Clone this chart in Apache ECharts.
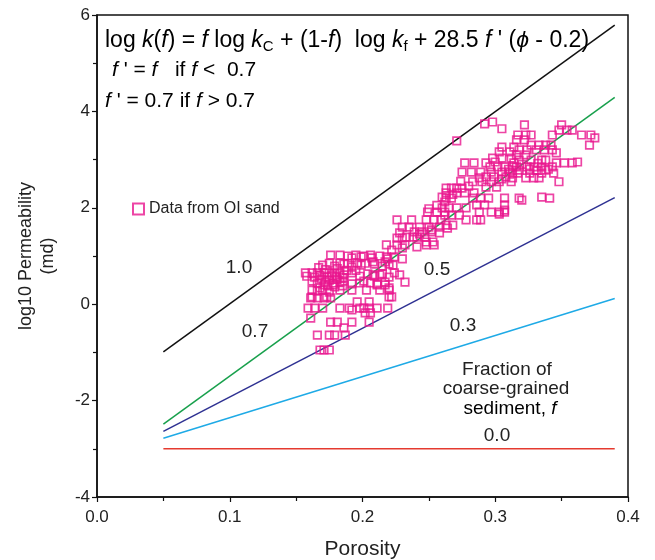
<!DOCTYPE html>
<html>
<head>
<meta charset="utf-8">
<script src="https://cdn.jsdelivr.net/npm/echarts@6/dist/echarts.min.js"></script>
<style>html,body{margin:0;padding:0;background:#fff;}#c{width:655px;height:560px;}</style>
</head>
<body>
<div id="c"></div>
<script>
// ---- data ----
const xTicks = [0.0, 0.1, 0.2, 0.3, 0.4];
const yTicks = [-4, -2, 0, 2, 4, 6];
const lineX = [0.05, 0.39];
const f10 = [-0.99, 5.79];
const f07 = [-2.49, 4.29];
const f05 = [-2.64, 2.21];
const f03 = [-2.78, 0.12];
const f00 = [-3.0, -3.0];
const oiSand = [
[0.176,1.02],[0.183,1.02],[0.189,1.00],[0.195,1.02],[0.201,1.00],[0.206,1.02],
[0.175,0.85],[0.183,0.85],[0.189,0.85],[0.196,0.85],[0.202,0.85],
[0.157,0.65],[0.162,0.65],[0.166,0.65],[0.171,0.65],[0.175,0.65],[0.179,0.65],[0.183,0.65],
[0.162,0.48],[0.166,0.44],[0.169,0.52],[0.172,0.46],[0.175,0.50],[0.178,0.44],[0.181,0.52],[0.183,0.46],[0.174,0.38],[0.168,0.34],[0.179,0.36],
[0.198,0.44],[0.206,0.44],
[0.162,0.29],[0.166,0.27],[0.170,0.29],[0.175,0.25],[0.183,0.29],[0.192,0.29],
[0.161,0.13],[0.166,0.13],[0.171,0.13],[0.176,0.13],
[0.196,0.05],[0.205,0.05],
[0.159,-0.08],[0.164,-0.08],[0.170,-0.08],[0.183,-0.08],[0.190,-0.08],[0.192,-0.12],[0.198,-0.08],[0.201,-0.08],[0.205,-0.08],
[0.202,-0.18],[0.206,-0.18],
[0.161,-0.29],
[0.176,-0.37],[0.181,-0.37],[0.192,-0.37],[0.205,-0.37],
[0.186,-0.49],
[0.166,-0.64],[0.175,-0.64],[0.179,-0.64],[0.187,-0.64],
[0.168,-0.95],[0.171,-0.95],[0.175,-0.95],
[0.218,1.23],[0.226,1.23],[0.232,1.23],[0.241,1.19],[0.248,1.23],[0.254,1.23],
[0.192,0.96],[0.199,0.98],[0.207,0.96],[0.213,1.00],[0.219,0.94],[0.224,0.98],[0.230,0.94],
[0.170,0.81],[0.179,0.79],[0.186,0.83],[0.192,0.77],[0.199,0.81],[0.209,0.83],[0.215,0.79],[0.220,0.83],
[0.158,0.58],[0.186,0.61],[0.192,0.65],[0.198,0.58],[0.204,0.63],[0.209,0.58],[0.215,0.63],[0.220,0.56],[0.224,0.65],[0.228,0.61],
[0.232,0.46],
[0.186,0.48],[0.192,0.42],[0.201,0.48],[0.211,0.42],[0.217,0.46],
[0.203,0.29],[0.213,0.29],[0.220,0.29],
[0.162,0.15],[0.173,0.15],[0.220,0.15],
[0.211,-0.08],[0.219,-0.08],
[0.249,1.91],[0.256,1.91],[0.262,1.91],
[0.226,1.75],[0.237,1.75],[0.248,1.75],[0.254,1.75],[0.259,1.75],
[0.230,1.60],[0.235,1.60],[0.243,1.60],[0.250,1.60],[0.258,1.60],
[0.239,1.50],[0.245,1.50],[0.252,1.50],
[0.233,1.39],[0.238,1.39],[0.241,1.39],[0.247,1.39],
[0.226,1.37],[0.230,1.37],
[0.248,1.29],[0.253,1.29],
[0.230,1.17],[0.222,1.12],
[0.218,0.98],[0.208,0.88],[0.217,0.88],[0.223,0.81],
[0.208,0.61],[0.213,0.61],
[0.211,0.40],[0.217,0.40],[0.220,0.34],[0.222,0.15],
[0.228,1.48],[0.243,1.46],[0.252,1.54],[0.258,1.48],
[0.260,2.22],[0.262,2.12],
[0.305,3.26],[0.314,3.26],
[0.303,3.16],[0.311,3.16],
[0.298,3.03],[0.305,3.03],[0.312,3.03],
[0.277,2.93],[0.284,2.93],[0.293,2.93],
[0.302,2.85],[0.307,2.85],[0.313,2.85],
[0.275,2.74],[0.282,2.74],[0.289,2.74],[0.297,2.74],[0.305,2.74],[0.311,2.74],
[0.293,2.64],[0.299,2.64],[0.308,2.64],
[0.283,2.54],[0.290,2.54],[0.297,2.54],[0.303,2.54],[0.312,2.54],
[0.293,2.43],[0.301,2.43],
[0.263,2.41],[0.267,2.41],[0.271,2.41],[0.275,2.41],
[0.263,2.31],[0.271,2.31],[0.277,2.31],[0.284,2.31],
[0.263,2.20],[0.267,2.20],[0.283,2.20],[0.289,2.20],[0.295,2.20],[0.307,2.20],[0.318,2.20],
[0.286,2.06],[0.292,2.06],
[0.260,2.00],[0.265,2.00],[0.271,2.00],[0.278,2.00],
[0.288,1.91],[0.297,1.91],[0.303,1.91],[0.307,1.91],
[0.262,1.85],[0.267,1.85],[0.273,1.85],
[0.278,1.75],[0.286,1.75],[0.289,1.75],
[0.263,1.64],[0.268,1.64],[0.264,1.58],
[0.322,3.72],[0.350,3.72],
[0.348,3.61],[0.354,3.61],[0.358,3.61],
[0.317,3.51],[0.323,3.51],[0.327,3.51],[0.343,3.51],[0.365,3.51],[0.372,3.51],
[0.316,3.41],[0.322,3.41],
[0.327,3.30],[0.333,3.30],[0.338,3.30],[0.342,3.30],[0.371,3.30],
[0.318,3.20],[0.324,3.20],[0.331,3.20],[0.337,3.20],[0.343,3.20],
[0.346,3.14],
[0.316,3.10],[0.323,3.10],
[0.318,2.99],[0.327,2.99],[0.335,2.99],[0.338,2.99],
[0.314,2.93],[0.346,2.93],[0.352,2.93],[0.358,2.93],
[0.316,2.85],[0.324,2.85],[0.329,2.85],[0.335,2.85],[0.343,2.85],
[0.318,2.78],[0.331,2.78],[0.338,2.78],
[0.313,2.72],[0.317,2.72],[0.326,2.72],[0.335,2.72],[0.344,2.72],
[0.313,2.62],[0.323,2.62],[0.329,2.62],[0.333,2.62],
[0.348,2.54],
[0.335,2.22],[0.341,2.20],[0.320,2.16],
[0.292,3.74],[0.298,3.78],[0.271,3.39],[0.305,3.64],[0.307,2.06],[0.307,1.95],[0.303,1.87],
[0.375,3.45],[0.362,2.95],
[0.164,0.56],[0.168,0.60],[0.173,0.57],[0.177,0.59],[0.180,0.56],[0.185,0.55],[0.188,0.70],
[0.172,0.72],[0.167,0.76],[0.181,0.74],[0.195,0.70],[0.178,0.40],[0.171,0.40],[0.185,0.38],
[0.320,2.90],[0.326,2.80],[0.332,2.92],[0.340,2.80],[0.310,2.80],[0.305,2.60],[0.300,2.95],
[0.296,2.85],[0.288,2.62],[0.280,2.45],[0.274,2.55],[0.268,2.28],[0.256,2.05],[0.250,1.98]
];

// ---- chart ----
const FONT = '"Liberation Sans", Arial, Helvetica, sans-serif';
const chart = echarts.init(document.getElementById('c'));
function seg(ys) { return lineX.map((x, i) => [x, ys[i]]); }
function lineSeries(name, ys, color) {
  return { name: name, type: 'line', data: seg(ys), symbol: 'none', silent: true,
    lineStyle: { color: color, width: 1.5 }, z: 2 };
}
const txt = (s) => ({ fontFamily: FONT, fontSize: 19, fill: '#222', text: s });
const eqRich = (fs) => ({
  n: { fontFamily: FONT, fontSize: fs, color: '#111', lineHeight: 28, verticalAlign: 'middle' },
  i: { fontFamily: FONT, fontSize: fs, color: '#111', fontStyle: 'italic', lineHeight: 28, verticalAlign: 'middle' },
  s: { fontFamily: FONT, fontSize: 15, color: '#111', lineHeight: 28, verticalAlign: 'bottom' }
});

chart.setOption({
  animation: false,
  backgroundColor: '#fff',
  grid: { left: 97, right: 27, top: 15, bottom: 63, show: true, borderColor: '#111', borderWidth: 1.5,
          backgroundColor: 'transparent', containLabel: false, outerBoundsMode: 'none' },
  xAxis: {
    type: 'value', min: xTicks[0], max: xTicks[xTicks.length - 1], interval: 0.1,
    name: 'Porosity', nameLocation: 'middle', nameGap: 42,
    nameTextStyle: { fontFamily: FONT, fontSize: 21, color: '#222' },
    axisLine: { show: true, onZero: false, lineStyle: { color: '#111', width: 1.5 } },
    axisTick: { show: true, inside: false, length: 5, lineStyle: { color: '#111', width: 1.2 } },
    minorTick: { show: true, splitNumber: 2, length: 4, lineStyle: { color: '#111', width: 1.2 } },
    splitLine: { show: false },
    axisLabel: { fontFamily: FONT, fontSize: 17, color: '#222', margin: 12, formatter: v => v.toFixed(1) }
  },
  yAxis: {
    type: 'value', min: yTicks[0], max: yTicks[yTicks.length - 1], interval: 2,
    name: 'log10 Permeability\n(md)', nameLocation: 'middle', nameGap: 38, nameRotate: 90,
    nameTextStyle: { fontFamily: FONT, fontSize: 18, color: '#222', lineHeight: 22 },
    axisLine: { show: true, onZero: false, lineStyle: { color: '#111', width: 1.5 } },
    axisTick: { show: true, inside: false, length: 5, lineStyle: { color: '#111', width: 1.2 } },
    minorTick: { show: true, splitNumber: 2, length: 4, lineStyle: { color: '#111', width: 1.2 } },
    splitLine: { show: false },
    axisLabel: { fontFamily: FONT, fontSize: 17, color: '#222', margin: 7 }
  },
  legend: {
    show: true, data: ['Data from OI sand'], left: 127, top: 196, itemWidth: 11, itemHeight: 11, itemGap: 4,
    textStyle: { fontFamily: FONT, fontSize: 16, color: '#222' }
  },
  series: [
    lineSeries('f10', f10, '#111111'),
    lineSeries('f07', f07, '#18a04c'),
    lineSeries('f05', f05, '#2e3192'),
    lineSeries('f03', f03, '#1eaae6'),
    lineSeries('f00', f00, '#e53a2f'),
    { name: 'Data from OI sand', type: 'scatter', data: oiSand, symbol: 'rect', symbolSize: 7.5,
      itemStyle: { color: 'rgba(255,255,255,0)', borderColor: '#e8168f', borderWidth: 1.7 }, z: 3 }
  ],
  graphic: [
    { type: 'text', left: 105, top: 29, z: 10, style: {
        rich: eqRich(23),
        text: '{n|log }{i|k}{n|(}{i|f}{n|) = }{i|f}{n| log }{i|k}{s|C}{n| + (1-}{i|f}{n|)  log }{i|k}{s|f}{n| + 28.5 }{i|f}{n| \' (}{i|ϕ}{n| - 0.2)}'
      } },
    { type: 'text', left: 112, top: 60, z: 10, style: {
        rich: eqRich(21),
        text: '{i|f}{n| \' = }{i|f}{n|   if }{i|f}{n| <  0.7}'
      } },
    { type: 'text', left: 105, top: 91, z: 10, style: {
        rich: eqRich(21),
        text: '{i|f}{n| \' = 0.7 if }{i|f}{n| > 0.7}'
      } },
    { type: 'text', x: 239, y: 268, z: 10, style: Object.assign(txt('1.0'), { textAlign: 'center', textVerticalAlign: 'middle' }) },
    { type: 'text', x: 255, y: 332, z: 10, style: Object.assign(txt('0.7'), { textAlign: 'center', textVerticalAlign: 'middle' }) },
    { type: 'text', x: 437, y: 270, z: 10, style: Object.assign(txt('0.5'), { textAlign: 'center', textVerticalAlign: 'middle' }) },
    { type: 'text', x: 463, y: 326, z: 10, style: Object.assign(txt('0.3'), { textAlign: 'center', textVerticalAlign: 'middle' }) },
    { type: 'text', x: 507, y: 370, z: 10, style: Object.assign(txt('Fraction of'), { textAlign: 'center', textVerticalAlign: 'middle' }) },
    { type: 'text', x: 506, y: 389, z: 10, style: Object.assign(txt('coarse-grained'), { textAlign: 'center', textVerticalAlign: 'middle' }) },
    { type: 'text', x: 510, y: 409, z: 10, style: {
        textAlign: 'center', textVerticalAlign: 'middle',
        rich: {
          n: { fontFamily: FONT, fontSize: 19, color: '#222' },
          i: { fontFamily: FONT, fontSize: 19, color: '#222', fontStyle: 'italic' }
        },
        text: '{n|sediment, }{i|f}'
      } },
    { type: 'text', x: 497, y: 436, z: 10, style: Object.assign(txt('0.0'), { textAlign: 'center', textVerticalAlign: 'middle' }) }
  ]
});
</script>
</body>
</html>
